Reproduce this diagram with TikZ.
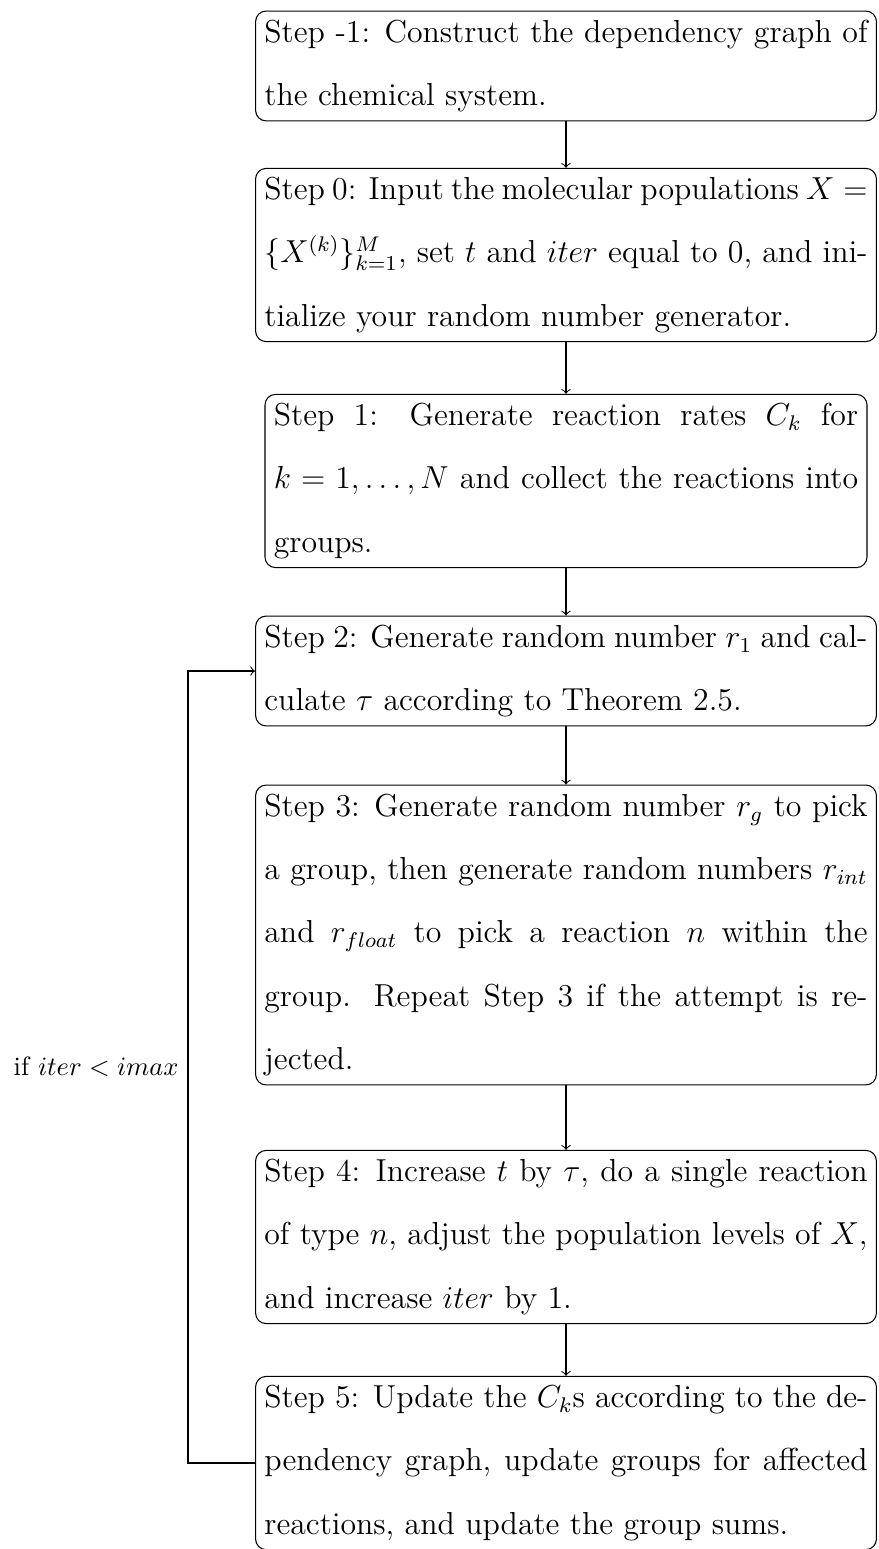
\documentclass[tikz,border=0pt]{standalone}
\usepackage{fontspec}
\newfontfamily\boxfont{lmroman12-regular}[Extension=.otf, ItalicFont=lmroman12-italic, Ligatures=TeX]
\begin{document}
\begin{tikzpicture}[x=0.37736pt, y=-0.37736pt,
  stepbox/.style={draw, rounded corners=4pt, text width=8cm, align=justify,
    font=\fontsize{12}{23.9}\selectfont\boxfont},
  narrowbox/.style={stepbox, text width=7.75cm},
  flow/.style={->}]
\useasboundingbox (0,0) rectangle (878,1549);

% process steps
\node[stepbox] (sm1) at (566,66) {Step -1: Construct the dependency graph of the chemical system.};
\node[stepbox] (s0) at (566,255) {Step 0: Input the molecular populations $X = \{X^{(k)}\}_{k=1}^{M}$, set $t$ and $iter$ equal to 0, and initialize your random number generator.};
\node[narrowbox] (s1) at (566,481) {Step 1: Generate reaction rates $C_k$ for $k = 1,\ldots,N$ and collect the reactions into groups.};
\node[stepbox] (s2) at (566,671) {Step 2: Generate random number $r_1$ and calculate $\tau$ according to Theorem 2.5.};
\node[stepbox] (s3) at (566,935) {Step 3: Generate random number $r_g$ to pick a group, then generate random numbers $r_{int}$ and $r_{float}$ to pick a reaction $n$ within the group. Repeat Step 3 if the attempt is rejected.};
\node[stepbox] (s4) at (566,1237) {Step 4: Increase $t$ by $\tau$, do a single reaction of type $n$, adjust the population levels of $X$, and increase $iter$ by 1.};
\node[stepbox] (s5) at (566,1463) {Step 5: Update the $C_k$s according to the dependency graph, update groups for affected reactions, and update the group sums.};

% main flow
\draw[flow] (sm1) -- (s0);
\draw[flow] (s0) -- (s1);
\draw[flow] (s1) -- (s2);
\draw[flow] (s2) -- (s3);
\draw[flow] (s3) -- (s4);
\draw[flow] (s4) -- (s5);

% loop back to step 2
\coordinate (loopx) at (188,0);
\draw[flow] (s5.west) -- (s5.west -| loopx)
  -- node[left, font=\fontsize{10}{12}\selectfont] {if $iter < imax$} (s2.west -| loopx)
  -- (s2.west);
\end{tikzpicture}
\end{document}
